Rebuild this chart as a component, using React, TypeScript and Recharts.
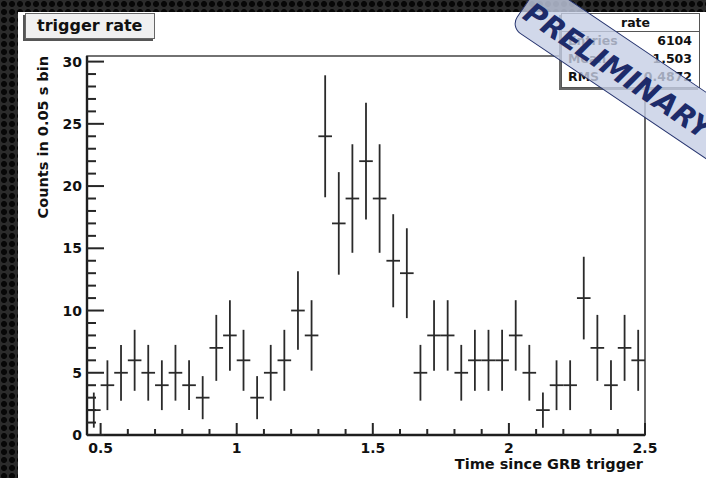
import React from 'react';
import { ComposedChart, Scatter, XAxis, YAxis, ErrorBar, ReferenceArea } from 'recharts';

// ---- data ----
const binCenters = [
  0.475, 0.525, 0.575, 0.625, 0.675, 0.725, 0.775, 0.825, 0.875, 0.925,
  0.975, 1.025, 1.075, 1.125, 1.175, 1.225, 1.275, 1.325, 1.375, 1.425,
  1.475, 1.525, 1.575, 1.625, 1.675, 1.725, 1.775, 1.825, 1.875, 1.925,
  1.975, 2.025, 2.075, 2.125, 2.175, 2.225, 2.275, 2.325, 2.375, 2.425,
  2.475,
];
const counts = [
  2, 4, 5, 6, 5, 4, 5, 4, 3, 7,
  8, 6, 3, 5, 6, 10, 8, 24, 17, 19,
  22, 19, 14, 13, 5, 8, 8, 5, 6, 6,
  6, 8, 5, 2, 4, 4, 11, 7, 4, 7,
  6,
];
const errors = [
  1.41, 2.0, 2.24, 2.45, 2.24, 2.0, 2.24, 2.0, 1.73, 2.65,
  2.83, 2.45, 1.73, 2.24, 2.45, 3.16, 2.83, 4.9, 4.12, 4.36,
  4.69, 4.36, 3.74, 3.61, 2.24, 2.83, 2.83, 2.24, 2.45, 2.45,
  2.45, 2.83, 2.24, 1.41, 2.0, 2.0, 3.32, 2.65, 2.0, 2.65,
  2.45,
];
const binHalfWidth = 0.025;

const xDomain = [0.45, 2.5];
const yDomain = [0, 30.45];
const xTicks = [
  0.5, 0.6, 0.7, 0.8, 0.9, 1.0, 1.1, 1.2, 1.3, 1.4, 1.5,
  1.6, 1.7, 1.8, 1.9, 2.0, 2.1, 2.2, 2.3, 2.4, 2.5,
];
const xMajorTicks = [0.5, 1, 1.5, 2, 2.5];
const xMajorLabels = ['0.5', '1', '1.5', '2', '2.5'];
const yTicks = [
  0, 1, 2, 3, 4, 5, 6, 7, 8, 9, 10, 11, 12, 13, 14, 15,
  16, 17, 18, 19, 20, 21, 22, 23, 24, 25, 26, 27, 28, 29, 30,
];
const yMajorTicks = [0, 5, 10, 15, 20, 25, 30];
const yMajorLabels = ['0', '5', '10', '15', '20', '25', '30'];

const titleText = 'trigger rate';
const xTitle = 'Time since GRB trigger';
const yTitle = 'Counts in 0.05 s bin';
const statsTitle = 'rate';
const statsLabels = ['Entries', 'Mean', 'RMS'];
const statsValues = ['6104', '1.503', '0.4872'];
const stampText = 'PRELIMINARY';

const data = binCenters.map((x, i) => ({ x, y: counts[i], ey: errors[i], ex: binHalfWidth }));

const FONT = '"DejaVu Sans", "Liberation Sans", Arial, sans-serif';
const INK = '#1e1e1e';
const TICK = '#262626';

const XTick = (props: any) => {
  const { x, y, payload } = props;
  const v = payload.value;
  const idx = xMajorTicks.findIndex((m) => Math.abs(m - v) < 1e-6);
  const major = idx >= 0;
  return (
    <g>
      <line x1={x} x2={x} y1={y} y2={y - (major ? 12 : 6)} stroke={TICK} strokeWidth={2} />
      {major && (
        <text x={x} y={y + 18} textAnchor="middle" fontFamily={FONT} fontWeight="bold" fontSize={14} fill="#111">
          {xMajorLabels[idx]}
        </text>
      )}
    </g>
  );
};

const YTick = (props: any) => {
  const { x, y, payload } = props;
  const v = payload.value;
  const idx = yMajorTicks.findIndex((m) => Math.abs(m - v) < 1e-6);
  const major = idx >= 0;
  return (
    <g>
      <line x1={x} x2={x + (major ? 17 : 9)} y1={y} y2={y} stroke={TICK} strokeWidth={2} />
      {major && (
        <text x={x - 5} y={y + 5} textAnchor="end" fontFamily={FONT} fontWeight="bold" fontSize={14} fill="#111">
          {yMajorLabels[idx]}
        </text>
      )}
    </g>
  );
};

export default function App() {
  return (
    <div
      style={{
        position: 'fixed',
        left: 0,
        top: 0,
        width: 706,
        height: 478,
        overflow: 'hidden',
        backgroundColor: '#2b2b2b',
        backgroundImage: 'radial-gradient(circle, #070707 2.6px, rgba(0,0,0,0) 3.4px)',
        backgroundSize: '8px 8px',
      }}
    >
      <div style={{ position: 'absolute', left: 18, top: 12, width: 688, height: 466, background: '#fff' }} />
      <div style={{ position: 'absolute', left: 0, top: 0 }}>
        <ComposedChart
          width={706}
          height={478}
          data={data}
          margin={{ top: 56, right: 61, bottom: 0, left: 27 }}
        >
          <XAxis
            type="number"
            dataKey="x"
            domain={xDomain}
            allowDataOverflow
            ticks={xTicks}
            interval={0}
            tickSize={0}
            tickMargin={0}
            tickLine={false}
            height={43}
            axisLine={{ stroke: INK, strokeWidth: 2.4 }}
            tick={<XTick />}
          />
          <YAxis
            type="number"
            dataKey="y"
            domain={yDomain}
            allowDataOverflow
            ticks={yTicks}
            interval={0}
            tickSize={0}
            tickMargin={0}
            tickLine={false}
            width={60}
            axisLine={{ stroke: INK, strokeWidth: 2.4 }}
            tick={<YTick />}
          />
          <ReferenceArea
            x1={xDomain[0]}
            x2={xDomain[1]}
            y1={yDomain[0]}
            y2={yDomain[1]}
            fill="none"
            fillOpacity={0}
            stroke="#444"
            strokeWidth={1.6}
          />
          <Scatter data={data} dataKey="y" isAnimationActive={false} shape={() => <g />}>
            <ErrorBar dataKey="ey" direction="y" width={0} stroke="#2a2a2a" strokeWidth={1.8} isAnimationActive={false} />
            <ErrorBar dataKey="ex" direction="x" width={0} stroke="#2a2a2a" strokeWidth={1.8} isAnimationActive={false} />
          </Scatter>
        </ComposedChart>
      </div>

      <svg width={706} height={478} style={{ position: 'absolute', left: 0, top: 0, pointerEvents: 'none' }}>
        <text
          transform="translate(48,56) rotate(-90)"
          textAnchor="end"
          fontFamily={FONT}
          fontWeight="bold"
          fontSize={14.5}
          fill="#111"
        >
          {yTitle}
        </text>
        <text x={643} y={469} textAnchor="end" fontFamily={FONT} fontWeight="bold" fontSize={14.5} fill="#111">
          {xTitle}
        </text>
      </svg>

      {/* title box */}
      <div
        style={{
          position: 'absolute',
          left: 25,
          top: 13,
          width: 130,
          height: 26,
          background: '#f0f0f0',
          border: '1px solid #666',
          boxShadow: '-2px 2px 0 #555',
          fontFamily: FONT,
          fontWeight: 'bold',
          fontSize: 16,
          lineHeight: '24px',
          color: '#111',
          paddingLeft: 11,
          boxSizing: 'border-box',
          whiteSpace: 'nowrap',
        }}
      >
        {titleText}
      </div>

      {/* stats box */}
      <div
        style={{
          position: 'absolute',
          left: 561,
          top: 13,
          width: 139,
          height: 75,
          background: '#fff',
          border: '1px solid #555',
          boxShadow: '-2px 2px 0 #666',
          boxSizing: 'border-box',
          fontFamily: FONT,
          fontWeight: 'bold',
          fontSize: 12.5,
          color: '#111',
        }}
      >
        <div style={{ height: 17, lineHeight: '17px', textAlign: 'center', borderBottom: '1px solid #555', paddingLeft: 10 }}>
          {statsTitle}
        </div>
        {statsLabels.map((lab, i) => (
          <div
            key={lab}
            style={{ display: 'flex', justifyContent: 'space-between', height: 18, lineHeight: '18px', paddingLeft: 6, paddingRight: 7 }}
          >
            <span>{lab}</span>
            <span>{statsValues[i]}</span>
          </div>
        ))}
      </div>

      {/* stamp */}
      <div
        style={{
          position: 'absolute',
          left: 510,
          top: -29,
          width: 340,
          height: 56,
          transform: 'rotate(34deg)',
          transformOrigin: '0 100%',
          background: 'rgba(198,206,229,0.8)',
          border: '1.5px solid #26346f',
          borderRadius: 12,
          boxSizing: 'border-box',
          fontFamily: FONT,
          fontWeight: 'bold',
          fontStyle: 'italic',
          fontSize: 29,
          lineHeight: '34px',
          paddingTop: 14,
          color: '#1d2b6a',
          paddingLeft: 3,
          whiteSpace: 'nowrap',
        }}
      >
        {stampText}
      </div>
    </div>
  );
}
